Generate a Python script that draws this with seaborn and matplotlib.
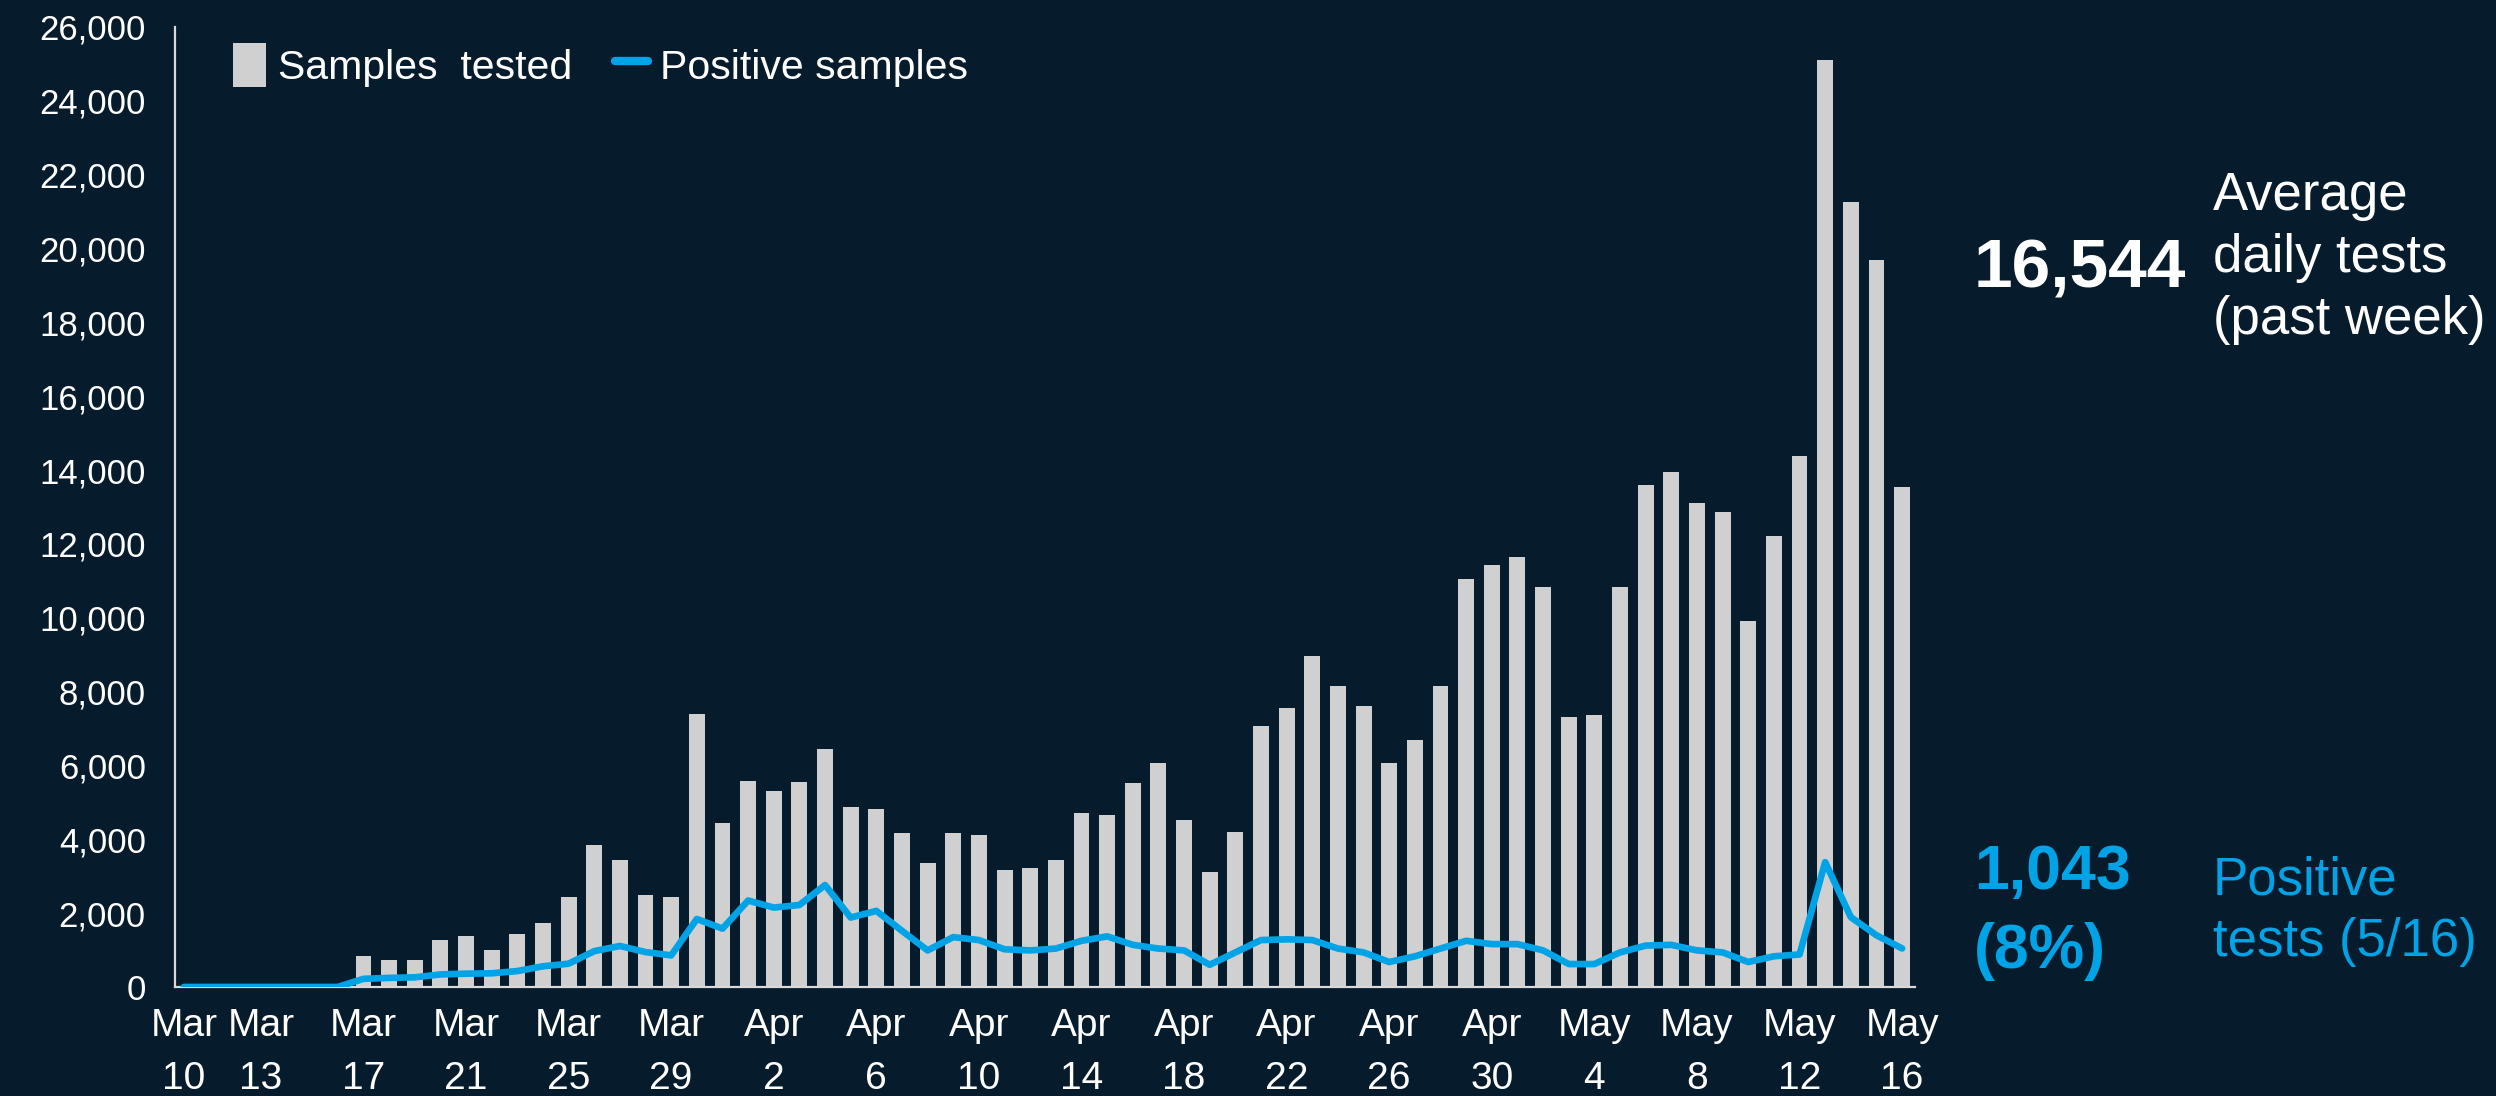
import matplotlib
matplotlib.use("Agg")
import matplotlib.pyplot as plt
import seaborn as sns
import numpy as np
import pandas as pd
from matplotlib.patches import Patch
from matplotlib.lines import Line2D

# ---------------- data ----------------
dates = pd.date_range("2020-03-10", "2020-05-16", freq="D")
samples_tested = [
    0, 0, 0, 0, 0, 0, 0,
    840, 730, 730, 1270, 1380, 1000, 1445, 1720, 2430, 3840, 3450, 2480, 2430, 7390, 4440,
    5580, 5320, 5540, 6450, 4870, 4820, 4160, 3350, 4160, 4110, 3170, 3220, 3450, 4700, 4660,
    5530, 6070, 4530, 3120, 4210, 7060, 7560, 8970, 8150, 7610, 6070, 6680, 8150, 11060, 11430,
    11650, 10840, 7300, 7360, 10840, 13590, 13950, 13120, 12850, 9920, 12200, 14390, 25100,
    21250, 19690, 13530,
]
positive_samples = [
    0, 0, 0, 0, 0, 0, 0,
    220, 245, 260, 340, 360, 370, 430, 560, 630, 970, 1110, 945, 855, 1840, 1580,
    2340, 2150, 2220, 2760, 1880, 2060, 1520, 990, 1350, 1270, 1020, 990, 1040, 1250, 1370,
    1140, 1040, 990, 600, 935, 1270, 1290, 1270, 1040, 935, 675, 830, 1040, 1250, 1160,
    1160, 990, 620, 620, 935, 1120, 1140, 990, 935, 675, 830, 880, 3380,
    1890, 1400, 1043,
]
tick_days = [0, 3] + list(range(7, 68, 4))
tick_labels = [f"{dates[d].strftime('%b')}\n{dates[d].day}" for d in tick_days]
y_ticks = list(range(0, 26001, 2000))

avg_value = "16,544"
avg_label = "Average\ndaily tests\n(past week)"
pos_value = "1,043\n(8%)"
pos_label = "Positive\ntests (5/16)"

# ---------------- style ----------------
BG = "#061b2c"
BAR = "#d0d0d0"
BLUE = "#00a3e6"
AXIS = "#d9d9d9"

sns.set_theme(style="white")
plt.rcParams["font.family"] = ["Liberation Sans", "DejaVu Sans"]

df = pd.DataFrame({
    "day": np.arange(len(dates)),
    "tested": samples_tested,
    "positive": positive_samples,
})

fig = plt.figure(figsize=(24.96, 10.96), dpi=100, facecolor=BG)
ax = fig.add_axes([0.0701, 0.0995, 0.6971, 0.8759])
ax.set_facecolor(BG)

sns.barplot(data=df, x="day", y="tested", color=BAR, width=0.62,
            saturation=1, ax=ax, native_scale=True, zorder=2,
            linewidth=0, edgecolor="none")
sns.lineplot(data=df, x="day", y="positive", color=BLUE, linewidth=4.8,
             ax=ax, zorder=3, solid_capstyle="round", solid_joinstyle="round")

ax.set_xlim(-0.35, 67.5)
ax.set_ylim(0, 26000)
ax.set_xticks(tick_days)
ax.set_xticklabels(tick_labels, linespacing=1.6, fontsize=28)
ax.set_yticks(y_ticks)
ax.set_yticklabels([f"{v:,}" for v in y_ticks], fontsize=25)
ax.tick_params(axis="both", length=0, colors="white")
ax.tick_params(axis="y", pad=21)
ax.tick_params(axis="x", pad=15)
ax.set_xlabel("")
ax.set_ylabel("")

for s in ["top", "right"]:
    ax.spines[s].set_visible(False)
for s in ["left", "bottom"]:
    ax.spines[s].set_color(AXIS)
    ax.spines[s].set_linewidth(1.6)
ax.grid(False)

handles = [
    Patch(facecolor=BAR, edgecolor="none", label="Samples  tested"),
    Line2D([], [], color=BLUE, linewidth=6, solid_capstyle="round", label="Positive samples"),
]
leg = ax.legend(handles=handles, loc="upper left", bbox_to_anchor=(0.012, 1.022),
                ncol=2, frameon=False, fontsize=29.5, handlelength=0.8, handleheight=1.3,
                handletextpad=0.3, columnspacing=1.05, labelcolor="white")

# ---------------- annotations ----------------
fig.text(1974 / 2496, 1 - 269 / 1096, avg_value, color="white", fontsize=50,
         fontweight="bold", ha="left", va="center")
fig.text(2213 / 2496, 1 - 258 / 1096, avg_label, color="white", fontsize=38,
         ha="left", va="center", linespacing=1.3)
fig.text(1974 / 2496, 1 - 912 / 1096, pos_value, color=BLUE, fontsize=45,
         fontweight="bold", ha="left", va="center", linespacing=1.45)
fig.text(2213 / 2496, 1 - 911 / 1096, pos_label, color=BLUE, fontsize=38,
         ha="left", va="center", linespacing=1.3)

fig.savefig("out.png", dpi=100, facecolor=BG)
